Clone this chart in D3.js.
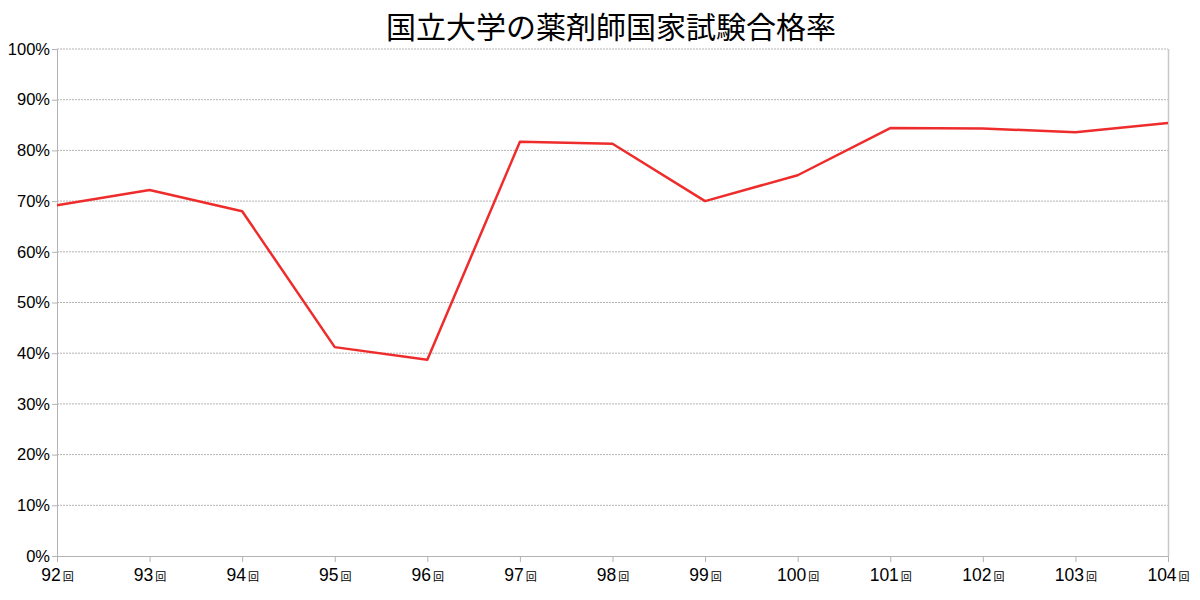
<!DOCTYPE html>
<html><head><meta charset="utf-8">
<script src="https://cdn.jsdelivr.net/npm/d3@7"></script>
<style>body{margin:0;background:#fff}</style>
</head><body>
<svg id="c" width="1200" height="600"></svg>
<script>
const categories = ["92","93","94","95","96","97","98","99","100","101","102","103","104"];
const passRates = [69.2,72.2,68.0,41.2,38.7,81.7,81.3,70.0,75.1,84.4,84.3,83.6,85.4];
const yTicks = [0,10,20,30,40,50,60,70,80,90,100];
const title = "国立大学の薬剤師国家試験合格率";

const svg = d3.select("#c");
const m = {l:57, r:1168, t:49, b:556};
const x = d3.scalePoint().domain(categories).range([m.l, m.r]);
const y = d3.scaleLinear().domain([0,100]).range([m.b, m.t]);

svg.append("rect").attr("width",1200).attr("height",600).attr("fill","#fff");

// grid
svg.append("g").selectAll("line").data(yTicks.filter(d=>d>0)).join("line")
  .attr("x1",m.l).attr("x2",m.r).attr("y1",d=>y(d)).attr("y2",d=>y(d))
  .attr("stroke","#b3b3b3").attr("stroke-dasharray","2,1").attr("stroke-width",1);

// right border
svg.append("line").attr("x1",m.r+0.5).attr("x2",m.r+0.5).attr("y1",m.t).attr("y2",m.b)
  .attr("stroke","#c8c8c8").attr("stroke-width",1.5);

// y axis
const yAxis = d3.axisLeft(y).tickValues(yTicks).tickFormat(d=>d+"%").tickSize(5).tickSizeOuter(0);
const gy = svg.append("g").attr("transform",`translate(${m.l},0)`).call(yAxis);
gy.select(".domain").attr("stroke","#b3b3b3");
gy.selectAll(".tick line").attr("stroke","#b3b3b3");
gy.selectAll("text").attr("font-family","Liberation Sans, Arial, sans-serif").attr("font-size",16.5).attr("fill","#000").attr("x",-7);

// x axis
const xAxis = d3.axisBottom(x).tickSize(6).tickSizeOuter(0).tickFormat("");
const gx = svg.append("g").attr("transform",`translate(0,${m.b})`).call(xAxis);
gx.select(".domain").attr("stroke","#b3b3b3");
gx.selectAll(".tick line").attr("stroke","#b3b3b3");
const lbl = gx.selectAll(".tick").append("text")
  .attr("y",25).attr("text-anchor","middle").attr("fill","#000")
  .attr("font-family","Liberation Sans, Arial, sans-serif").attr("font-size",17.5);
lbl.append("tspan").text(d=>d);
lbl.append("tspan").attr("font-size",11).attr("dx",2).attr("font-family","Noto Sans CJK JP").text("回");

// line
svg.append("path").datum(passRates)
  .attr("fill","none").attr("stroke","#ee2c2c").attr("stroke-width",2.5).attr("stroke-linejoin","round")
  .attr("d", d3.line().x((d,i)=>x(categories[i])).y(d=>y(d)));

// title
svg.append("text").attr("x",611).attr("y",38).attr("text-anchor","middle")
  .attr("font-family","Noto Sans CJK JP").attr("font-size",30).attr("fill","#000").text(title);
</script>
</body></html>
